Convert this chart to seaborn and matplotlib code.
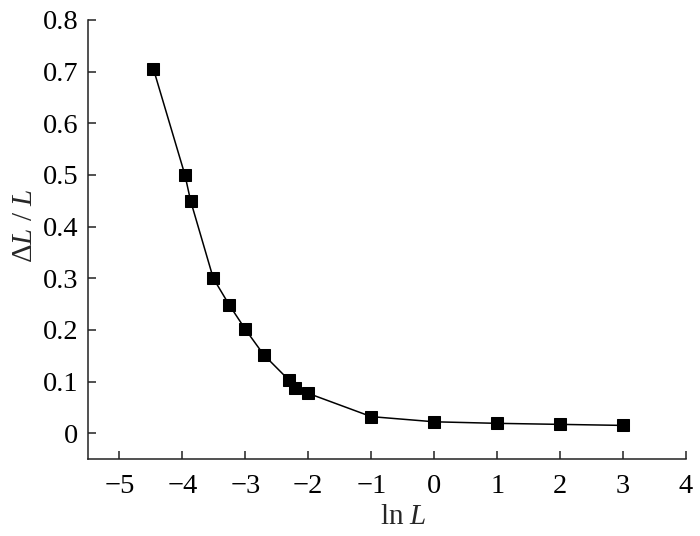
import matplotlib
matplotlib.use("Agg")
import matplotlib.pyplot as plt
import seaborn as sns
import pandas as pd

# values
ln_L = [-4.46, -3.96, -3.87, -3.51, -3.26, -3.0, -2.71, -2.31, -2.21, -2.0,
        -1.0, 0.0, 1.0, 2.0, 3.0]
dL_over_L = [0.705, 0.50, 0.45, 0.30, 0.249, 0.201, 0.152, 0.103, 0.088, 0.077,
             0.032, 0.022, 0.019, 0.017, 0.015]
x_ticks = [-5, -4, -3, -2, -1, 0, 1, 2, 3, 4]
y_ticks = [0, 0.1, 0.2, 0.3, 0.4, 0.5, 0.6, 0.7, 0.8]
y_ticklabels = ["0", "0.1", "0.2", "0.3", "0.4", "0.5", "0.6", "0.7", "0.8"]

sns.set_style("ticks")
plt.rcParams["font.family"] = ["Liberation Serif", "DejaVu Serif"]
plt.rcParams["mathtext.fontset"] = "custom"
plt.rcParams["mathtext.rm"] = "Liberation Serif"
plt.rcParams["mathtext.it"] = "Liberation Serif:italic"
plt.rcParams["axes.unicode_minus"] = True

df = pd.DataFrame({"x": ln_L, "y": dL_over_L})

fig = plt.figure(figsize=(7, 5.36), dpi=100)
ax = fig.add_axes([0.1257, 0.1437, 0.8543, 0.819])

sns.lineplot(data=df, x="x", y="y", ax=ax, estimator=None, sort=False,
             color="black", linewidth=1.1, marker="s", markersize=9,
             markerfacecolor="black", markeredgecolor="black")

ax.set_xlim(-5.5, 4)
ax.set_ylim(-0.05, 0.8)
ax.set_xticks(x_ticks)
ax.set_yticks(y_ticks)
ax.set_yticklabels(y_ticklabels)

sns.despine(ax=ax)
for s in ["left", "bottom"]:
    ax.spines[s].set_linewidth(1.1)
    ax.spines[s].set_color("#222222")

ax.tick_params(direction="in", length=6, width=1.1, labelsize=20.5,
               colors="#222222", labelcolor="black")
ax.tick_params(axis="x", pad=11)
ax.tick_params(axis="y", pad=7)

ax.set_xlabel(r"ln$\ L$", fontsize=21)
ax.set_ylabel(r"$\Delta L$ / $L$", fontsize=21)
ax.xaxis.set_label_coords(0.527, -0.103)
ax.yaxis.set_label_coords(-0.083, 0.531)

fig.savefig("out.png", dpi=100)
